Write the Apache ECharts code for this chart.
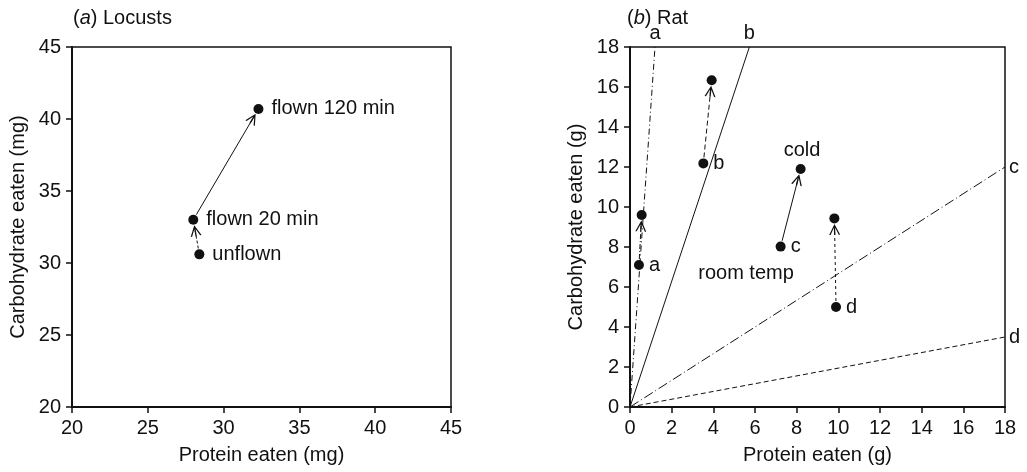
<!DOCTYPE html>
<html>
<head>
<meta charset="utf-8">
<script src="https://cdn.jsdelivr.net/npm/echarts@6/dist/echarts.min.js"></script>
<style>
  html, body { margin: 0; padding: 0; background: #fff; }
  #chart { width: 1027px; height: 472px; }
</style>
</head>
<body>
<div id="chart"></div>
<script>
// (a) locusts, mg eaten
var locustNames = ["unflown", "flown 20 min", "flown 120 min"];
var locustProtein = [28.4, 28.0, 32.3];
var locustCarb = [30.6, 33.0, 40.7];
var locustArrows = [[0, 1], [1, 2]];

// (b) rat, g eaten; room temp -> cold for each diet pair
var ratGroups = ["a", "b", "c", "d"];
var roomProtein = [0.43, 3.52, 7.23, 9.89];
var roomCarb = [7.1, 12.18, 8.02, 5.0];
var coldProtein = [0.56, 3.92, 8.19, 9.81];
var coldCarb = [9.6, 16.34, 11.9, 9.43];
// rails from origin, end points on the frame
var railEnds = [[1.2, 18], [5.73, 18], [18, 12.0], [18, 3.5]];
var railLabelPos = ["top", "top", "right", "right"];
var notes = [
  { text: "cold", at: [8.26, 12.85] },
  { text: "room temp", at: [5.57, 6.7] }
];

var ink = "#111";
var font = "'Liberation Sans', Arial, sans-serif";

var gridA = { left: 72, top: 47, width: 379, height: 360 };
var gridB = { left: 630, top: 47, width: 375, height: 360 };
var rangeA = [20, 45];
var rangeB = [0, 18];

// open arrowhead with stem, pointing up
var chevron = "path://M0,10 L5,0 L10,10 L8.7,10 L5.6,3.6 L5.6,10 L4.4,10 L4.4,3.6 L1.3,10 Z";

// trim arrow ends so they stop short of the dots (cut in px)
function trim(p, q, grid, range, cut0, cut1) {
  var sx = grid.width / (range[1] - range[0]);
  var sy = grid.height / (range[1] - range[0]);
  var dx = (q[0] - p[0]) * sx, dy = (q[1] - p[1]) * sy;
  var len = Math.sqrt(dx * dx + dy * dy);
  var ux = dx / len / sx, uy = dy / len / sy;
  return [[p[0] + ux * cut0, p[1] + uy * cut0], [q[0] - ux * cut1, q[1] - uy * cut1]];
}

var locustArrowStyles = [[3, 2], "solid"];
var ratArrowStyles = [[5, 2, 1, 2], [5, 3], "solid", [3, 3]];
var railStyles = [[6, 3, 1, 3], "solid", [10, 3, 1, 3], [5, 3]];

function axisBase(range, interval, extra) {
  var a = {
    type: "value",
    min: range[0],
    max: range[1],
    interval: interval,
    splitLine: { show: false },
    axisLine: { show: true, onZero: false, lineStyle: { color: ink, width: 2 } },
    axisTick: { show: true, inside: false, length: 6, lineStyle: { color: ink, width: 1.5 } },
    axisLabel: { color: ink, fontSize: 20, fontFamily: font, margin: 11 },
    nameLocation: "middle",
    nameTextStyle: { color: ink, fontSize: 20, fontFamily: font }
  };
  for (var k in extra) a[k] = extra[k];
  return a;
}

var dotStyle = { color: ink, opacity: 1 };
var labelBase = { show: true, color: ink, fontSize: 20, fontFamily: font, opacity: 1 };

var option = {
  animation: false,
  backgroundColor: "#fff",
  title: [
    {
      text: "({i|a}) Locusts", left: 68, top: 3,
      textStyle: { color: ink, fontSize: 20, fontWeight: "normal", fontFamily: font,
        rich: { i: { fontStyle: "italic", fontSize: 20, color: ink, fontFamily: font } } }
    },
    {
      text: "({i|b}) Rat", left: 622, top: 3,
      textStyle: { color: ink, fontSize: 20, fontWeight: "normal", fontFamily: font,
        rich: { i: { fontStyle: "italic", fontSize: 20, color: ink, fontFamily: font } } }
    }
  ],
  grid: [
    Object.assign({ show: true, borderColor: ink, borderWidth: 1.5 }, gridA),
    Object.assign({ show: true, borderColor: ink, borderWidth: 1.5 }, gridB)
  ],
  xAxis: [
    axisBase(rangeA, 5, { gridIndex: 0, name: "Protein eaten (mg)", nameGap: 38 }),
    axisBase(rangeB, 2, { gridIndex: 1, name: "Protein eaten (g)", nameGap: 38 })
  ],
  yAxis: [
    axisBase(rangeA, 5, { gridIndex: 0, name: "Carbohydrate eaten (mg)", nameGap: 44 }),
    axisBase(rangeB, 2, { gridIndex: 1, name: "Carbohydrate eaten (g)", nameGap: 44 })
  ],
  series: [
    {
      type: "lines",
      coordinateSystem: "cartesian2d",
      xAxisIndex: 0, yAxisIndex: 0,
      symbol: ["none", chevron],
      symbolSize: [9, 11],
      lineStyle: { color: ink, width: 1, opacity: 1 },
      data: locustArrows.map(function (pr, i) {
        var p = [locustProtein[pr[0]], locustCarb[pr[0]]];
        var q = [locustProtein[pr[1]], locustCarb[pr[1]]];
        return { coords: trim(p, q, gridA, rangeA, 6, 11), lineStyle: { type: locustArrowStyles[i] } };
      })
    },
    {
      type: "scatter",
      xAxisIndex: 0, yAxisIndex: 0,
      symbolSize: 10,
      itemStyle: dotStyle,
      clip: false,
      z: 5,
      label: Object.assign({}, labelBase, {
        position: "right", distance: 8,
        formatter: function (p) { return locustNames[p.dataIndex]; }
      }),
      data: locustProtein.map(function (x, i) { return [x, locustCarb[i]]; })
    },
    {
      type: "lines",
      coordinateSystem: "cartesian2d",
      xAxisIndex: 1, yAxisIndex: 1,
      symbol: ["none", "none"],
      lineStyle: { color: ink, width: 1, opacity: 1 },
      data: railEnds.map(function (e, i) {
        return { coords: [[0, 0], e], lineStyle: { type: railStyles[i] } };
      })
    },
    {
      type: "scatter",
      xAxisIndex: 1, yAxisIndex: 1,
      symbolSize: 0,
      itemStyle: dotStyle,
      clip: false,
      label: Object.assign({}, labelBase, {
        distance: 4,
        formatter: function (p) { return ratGroups[p.dataIndex]; }
      }),
      data: railEnds.map(function (e, i) {
        return { value: e, label: { position: railLabelPos[i] } };
      })
    },
    {
      type: "lines",
      coordinateSystem: "cartesian2d",
      xAxisIndex: 1, yAxisIndex: 1,
      symbol: ["none", chevron],
      symbolSize: [9, 11],
      lineStyle: { color: ink, width: 1, opacity: 1 },
      data: ratGroups.map(function (g, i) {
        var p = [roomProtein[i], roomCarb[i]];
        var q = [coldProtein[i], coldCarb[i]];
        return { coords: trim(p, q, gridB, rangeB, 6, 11), lineStyle: { type: ratArrowStyles[i] } };
      })
    },
    {
      type: "scatter",
      xAxisIndex: 1, yAxisIndex: 1,
      symbolSize: 10,
      itemStyle: dotStyle,
      clip: false,
      z: 5,
      label: Object.assign({}, labelBase, {
        position: "right", distance: 5,
        formatter: function (p) { return ratGroups[p.dataIndex]; }
      }),
      data: roomProtein.map(function (x, i) { return [x, roomCarb[i]]; })
    },
    {
      type: "scatter",
      xAxisIndex: 1, yAxisIndex: 1,
      symbolSize: 10,
      itemStyle: dotStyle,
      clip: false,
      z: 5,
      data: coldProtein.map(function (x, i) { return [x, coldCarb[i]]; })
    },
    {
      type: "scatter",
      xAxisIndex: 1, yAxisIndex: 1,
      symbolSize: 0,
      itemStyle: dotStyle,
      clip: false,
      label: Object.assign({}, labelBase, {
        position: "inside",
        formatter: function (p) { return notes[p.dataIndex].text; }
      }),
      data: notes.map(function (n) { return n.at; })
    }
  ]
};

var myChart = echarts.init(document.getElementById("chart"));
myChart.setOption(option);
</script>
</body>
</html>
